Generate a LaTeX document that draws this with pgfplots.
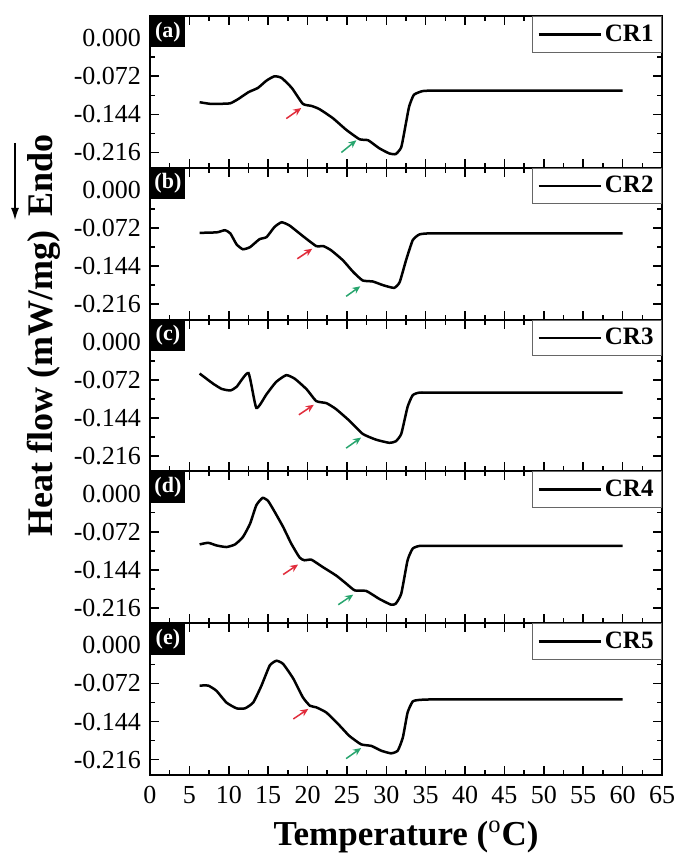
\documentclass[border=0pt]{standalone}
\usepackage{fontspec}
\setmainfont{Liberation Serif}
\usepackage{pgfplots}
\pgfplotsset{compat=1.18}
\usepackage{pgfplotstable}
\usetikzlibrary{arrows.meta}

\definecolor{arrred}{RGB}{225,45,60}
\definecolor{arrgreen}{RGB}{40,165,110}
\newcommand\ticfont{\fontsize{13}{15}\selectfont}

\pgfplotstableread{
x y
6.3 -0.121
7.6 -0.124
9.0 -0.124
10.2 -0.123
11.2 -0.115
12.5 -0.102
13.7 -0.094
14.8 -0.080
15.8 -0.072
16.7 -0.075
18.0 -0.094
19.4 -0.124
20.5 -0.128
21.5 -0.134
23.2 -0.151
24.9 -0.173
26.6 -0.191
27.7 -0.193
29.1 -0.208
30.4 -0.218
31.2 -0.219
31.9 -0.206
32.5 -0.160
32.9 -0.129
33.5 -0.107
34.6 -0.100
36 -0.099
40 -0.099
45 -0.099
50 -0.099
55 -0.099
60 -0.099
}\crone

\pgfplotstableread{
x y
6.3 -0.081
8.5 -0.080
9.5 -0.076
10.2 -0.082
11.0 -0.103
11.8 -0.112
12.7 -0.108
13.9 -0.093
14.8 -0.089
15.8 -0.070
16.7 -0.061
17.7 -0.067
19.4 -0.087
21.1 -0.106
22.0 -0.106
23.0 -0.114
24.5 -0.133
25.8 -0.155
27.0 -0.171
28.3 -0.173
29.6 -0.180
31.0 -0.185
31.7 -0.174
32.5 -0.133
33.35 -0.095
34.2 -0.084
35.5 -0.082
40 -0.082
45 -0.082
50 -0.082
55 -0.082
60 -0.082
}\crtwo

\pgfplotstableread{
x y
6.3 -0.060
8.0 -0.079
9.1 -0.089
10.2 -0.092
11.0 -0.085
12.5 -0.059
13.5 -0.125
14.8 -0.099
16.0 -0.076
17.3 -0.063
18.4 -0.070
19.9 -0.090
21.1 -0.112
22.4 -0.116
23.6 -0.127
25.3 -0.149
27.0 -0.174
28.7 -0.185
30.4 -0.191
31.2 -0.188
31.9 -0.174
32.7 -0.123
33.35 -0.101
34.2 -0.096
36 -0.096
40 -0.096
45 -0.096
50 -0.096
55 -0.096
60 -0.096
}\crthree

\pgfplotstableread{
x y
6.3 -0.096
7.4 -0.093
8.45 -0.098
9.7 -0.101
10.8 -0.096
11.8 -0.082
12.7 -0.057
13.5 -0.022
14.3 -0.008
15.0 -0.014
15.85 -0.035
16.9 -0.063
17.95 -0.095
19.0 -0.121
19.6 -0.126
20.5 -0.125
21.95 -0.139
23.65 -0.155
24.9 -0.170
26.0 -0.183
27.45 -0.184
29.1 -0.199
30.6 -0.210
31.2 -0.208
31.9 -0.189
32.7 -0.126
33.35 -0.104
34.2 -0.099
36 -0.099
40 -0.099
45 -0.099
50 -0.099
55 -0.099
60 -0.099
}\crfour

\pgfplotstableread{
x y
6.3 -0.076
7.4 -0.076
8.45 -0.086
9.7 -0.108
11.0 -0.119
12.05 -0.119
13.1 -0.108
14.15 -0.076
15.2 -0.038
16.05 -0.029
16.9 -0.035
18.2 -0.063
19.4 -0.098
20.3 -0.114
21.1 -0.117
22.4 -0.127
24.1 -0.152
25.3 -0.171
26.8 -0.187
28.1 -0.190
29.35 -0.199
30.6 -0.204
31.45 -0.199
32.1 -0.174
32.7 -0.127
33.35 -0.106
34.2 -0.103
36 -0.102
40 -0.102
45 -0.102
50 -0.102
55 -0.102
60 -0.102
}\crfive

\tikzset{
  tag/.style={fill=black, text=white, font=\bfseries\fontsize{11}{13}\selectfont,
    anchor=north west, minimum width=17.5pt, minimum height=15.5pt, inner sep=0pt},
  rarr/.style={-{Stealth[length=4pt,width=3.5pt]}, arrred, line width=0.75pt},
  garr/.style={-{Stealth[length=4pt,width=3.5pt]}, arrgreen, line width=0.75pt},
}

\pgfplotsset{
  panel/.style={
    width=256pt, height=75.9pt, scale only axis, anchor=north west,
    xmin=0, xmax=65, ymin=-0.245, ymax=0.042,
    xtick={0,5,...,65}, minor x tick num=1, xticklabels={},
    ytick={0,-0.072,-0.144,-0.216},
    yticklabels={0.000,-0.072,-0.144,-0.216},
    minor ytick={-0.036,-0.108,-0.18},
    tick align=inside, major tick length=4.5pt, minor tick length=2.5pt,
    every tick/.style={black, line width=0.8pt},
    axis line style={line width=1pt},
    yticklabel style={font=\ticfont, xshift=-1pt},
    legend style={at={(1,1)}, anchor=north east, draw=black!60, line width=0.5pt,
      font=\bfseries\fontsize{12.5}{14}\selectfont, inner xsep=2.5pt, inner ysep=2.5pt,
      nodes={inner sep=1.5pt}},
    legend image code/.code={\draw[#1] (0pt,0pt) -- (31pt,0pt);},
  },
  crv/.style={black, line width=1.25pt, smooth, tension=0.3},
}

\begin{document}
\begin{tikzpicture}
\path[use as bounding box] (-75pt,8pt) rectangle (263.5pt,-419pt);

\begin{axis}[panel, at={(0pt,0pt)}]
\addplot[crv] table[x=x,y=y] {\crone};
\addlegendentry{CR1}
\node[tag] at (rel axis cs:0,1) {(a)};
\draw[rarr] (axis cs:17.3,-0.152) -- (axis cs:19.2,-0.132);
\draw[garr] (axis cs:24.3,-0.216) -- (axis cs:26.2,-0.193);
\end{axis}

\begin{axis}[panel, at={(0pt,-75.9pt)}]
\addplot[crv] table[x=x,y=y] {\crtwo};
\addlegendentry{CR2}
\node[tag] at (rel axis cs:0,1) {(b)};
\draw[rarr] (axis cs:18.7,-0.130) -- (axis cs:20.6,-0.111);
\draw[garr] (axis cs:24.9,-0.201) -- (axis cs:26.7,-0.182);
\end{axis}

\begin{axis}[panel, at={(0pt,-151.8pt)}]
\addplot[crv] table[x=x,y=y] {\crthree};
\addlegendentry{CR3}
\node[tag] at (rel axis cs:0,1) {(c)};
\draw[rarr] (axis cs:18.9,-0.138) -- (axis cs:20.8,-0.119);
\draw[garr] (axis cs:24.9,-0.201) -- (axis cs:26.8,-0.181);
\end{axis}

\begin{axis}[panel, at={(0pt,-227.7pt)}]
\addplot[crv] table[x=x,y=y] {\crfour};
\addlegendentry{CR4}
\node[tag] at (rel axis cs:0,1) {(d)};
\draw[rarr] (axis cs:16.9,-0.153) -- (axis cs:18.8,-0.134);
\draw[garr] (axis cs:23.9,-0.210) -- (axis cs:25.8,-0.191);
\end{axis}

\begin{axis}[panel, at={(0pt,-303.6pt)},
  xticklabels={0,5,10,15,20,25,30,35,40,45,50,55,60,65},
  xticklabel style={font=\ticfont, yshift=-2pt},
  xlabel={Temperature ($^{\mathrm{o}}$C)},
  xlabel style={at={(axis description cs:0.5,0)}, anchor=center, yshift=-31pt,
    font=\bfseries\fontsize{17.5}{20}\selectfont}]
\addplot[crv] table[x=x,y=y] {\crfive};
\addlegendentry{CR5}
\node[tag] at (rel axis cs:0,1) {(e)};
\draw[rarr] (axis cs:18.2,-0.139) -- (axis cs:20.1,-0.120);
\draw[garr] (axis cs:24.9,-0.214) -- (axis cs:26.8,-0.194);
\end{axis}

\node[rotate=90, anchor=base west, font=\bfseries\fontsize{18}{20}\selectfont, inner sep=0pt]
  at (-48.5pt,-100.5pt) {Endo};
\node[rotate=90, anchor=base east, font=\bfseries\fontsize{18}{20}\selectfont, inner sep=0pt]
  at (-48.5pt,-107pt) {Heat flow (mW/mg)};
\draw[-{Latex[length=6pt,width=4pt]}, line width=0.6pt] (-67.5pt,-63.5pt) -- (-67.5pt,-102pt);
\end{tikzpicture}
\end{document}
